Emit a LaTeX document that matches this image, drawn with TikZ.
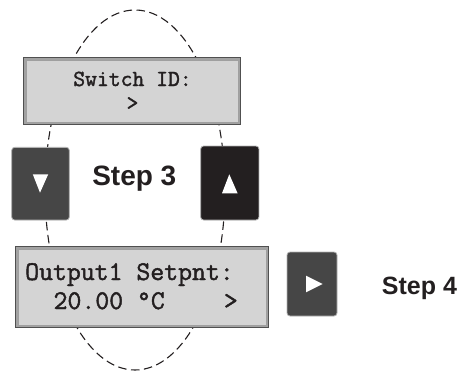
\documentclass[tikz,border=0pt]{standalone}
\usepackage{fontspec}
\setmainfont{Liberation Sans}
\newfontfamily\lcdfont[FakeBold=1.6]{Latin Modern Mono}
\usetikzlibrary{shapes.geometric}

\definecolor{lcdface}{HTML}{D4D4D4}
\definecolor{lcdedge}{HTML}{A2A2A2}
\definecolor{lcdline}{HTML}{505050}
\definecolor{keygray}{HTML}{464646}
\definecolor{keyblack}{HTML}{231F20}
\definecolor{inkcol}{HTML}{231F20}

\tikzset{
  loopline/.style={draw=inkcol, line width=1.1pt, dash pattern=on 8.5pt off 4.5pt},
  lcd/.style={draw=lcdline, fill=lcdedge, line width=1pt, inner sep=0pt},
  key/.style={draw=gray!60, line width=0.8pt, rounded corners=3pt, inner sep=0pt},
  keymark/.style={fill=white},
  lcdtext/.style={inner sep=0pt, text=inkcol, font=\lcdfont\fontsize{27}{30}\selectfont},
  lcdsmall/.style={inner sep=0pt, text=inkcol, font=\lcdfont\fontsize{23}{26}\selectfont},
  steplabel/.style={inner sep=0pt, text=inkcol, font=\bfseries}
}

\begin{document}
\begin{tikzpicture}[x=1pt, y=-1pt]
  \useasboundingbox (0,0) rectangle (471,372);

  % dashed menu loop behind the displays and keys
  \node[loopline, ellipse, minimum width=180pt, minimum height=360pt, inner sep=0pt] (loop) at (135,190) {};

  % upper display
  \node[lcd, minimum width=217pt, minimum height=67pt] (lcdtop) at (131.5,90.5) {};
  \fill[lcdface, draw=gray!75, line width=0.4pt]
    ([shift={(3.5pt,-3.5pt)}]lcdtop.north west) rectangle ([shift={(-2.5pt,2.5pt)}]lcdtop.south east);
  \node[lcdsmall, anchor=base] (lcdtopa) at (132.5,86) {Switch ID:};
  \node[lcdsmall, anchor=base] (lcdtopb) at (132.5,110) {>};

  % lower display
  \node[lcd, minimum width=253pt, minimum height=81pt] (lcdbot) at (141.5,286.5) {};
  \fill[lcdface, draw=gray!75, line width=0.4pt]
    ([shift={(3.5pt,-3.5pt)}]lcdbot.north west) rectangle ([shift={(-2.5pt,2.5pt)}]lcdbot.south east);
  \node[lcdtext, anchor=base west] (lcdbota) at (25,280) {Output1 Setpnt:};
  \node[lcdtext, anchor=base west] (lcdbotb) at (53.4,309) {20.00 °C};
  \node[lcdtext, anchor=base west] (lcdbotc) at (223.7,309) {>};

  % down key
  \node[key, fill=keygray, minimum width=57.6pt, minimum height=72.7pt] (down) at (40.5,183.7) {};
  \fill[keymark] ([shift={(-7.7pt,9.4pt)}]down.center) -- ([shift={(7.7pt,9.4pt)}]down.center)
    -- ([shift={(-0.5pt,-9pt)}]down.center) -- cycle;

  % up key
  \node[key, fill=keyblack, minimum width=58.3pt, minimum height=74pt] (up) at (229.8,183) {};
  \fill[keymark] ([shift={(-7.8pt,-10.3pt)}]up.center) -- ([shift={(7.8pt,-10.3pt)}]up.center)
    -- ([shift={(-0.5pt,8.7pt)}]up.center) -- cycle;

  % right key
  \node[key, fill=keygray, minimum width=50pt, minimum height=64pt] (right) at (312,284) {};
  \fill[keymark] ([shift={(-6pt,8.3pt)}]right.center) -- ([shift={(-6pt,-8.3pt)}]right.center)
    -- ([shift={(10.7pt,0pt)}]right.center) -- cycle;

  % step labels
  \node[steplabel, font=\bfseries\fontsize{28}{30}\selectfont, anchor=base] (step3) at (134.3,185) {Step 3};
  \node[steplabel, font=\bfseries\fontsize{25}{28}\selectfont, anchor=base] (step4) at (419.5,294) {Step 4};
\end{tikzpicture}
\end{document}
